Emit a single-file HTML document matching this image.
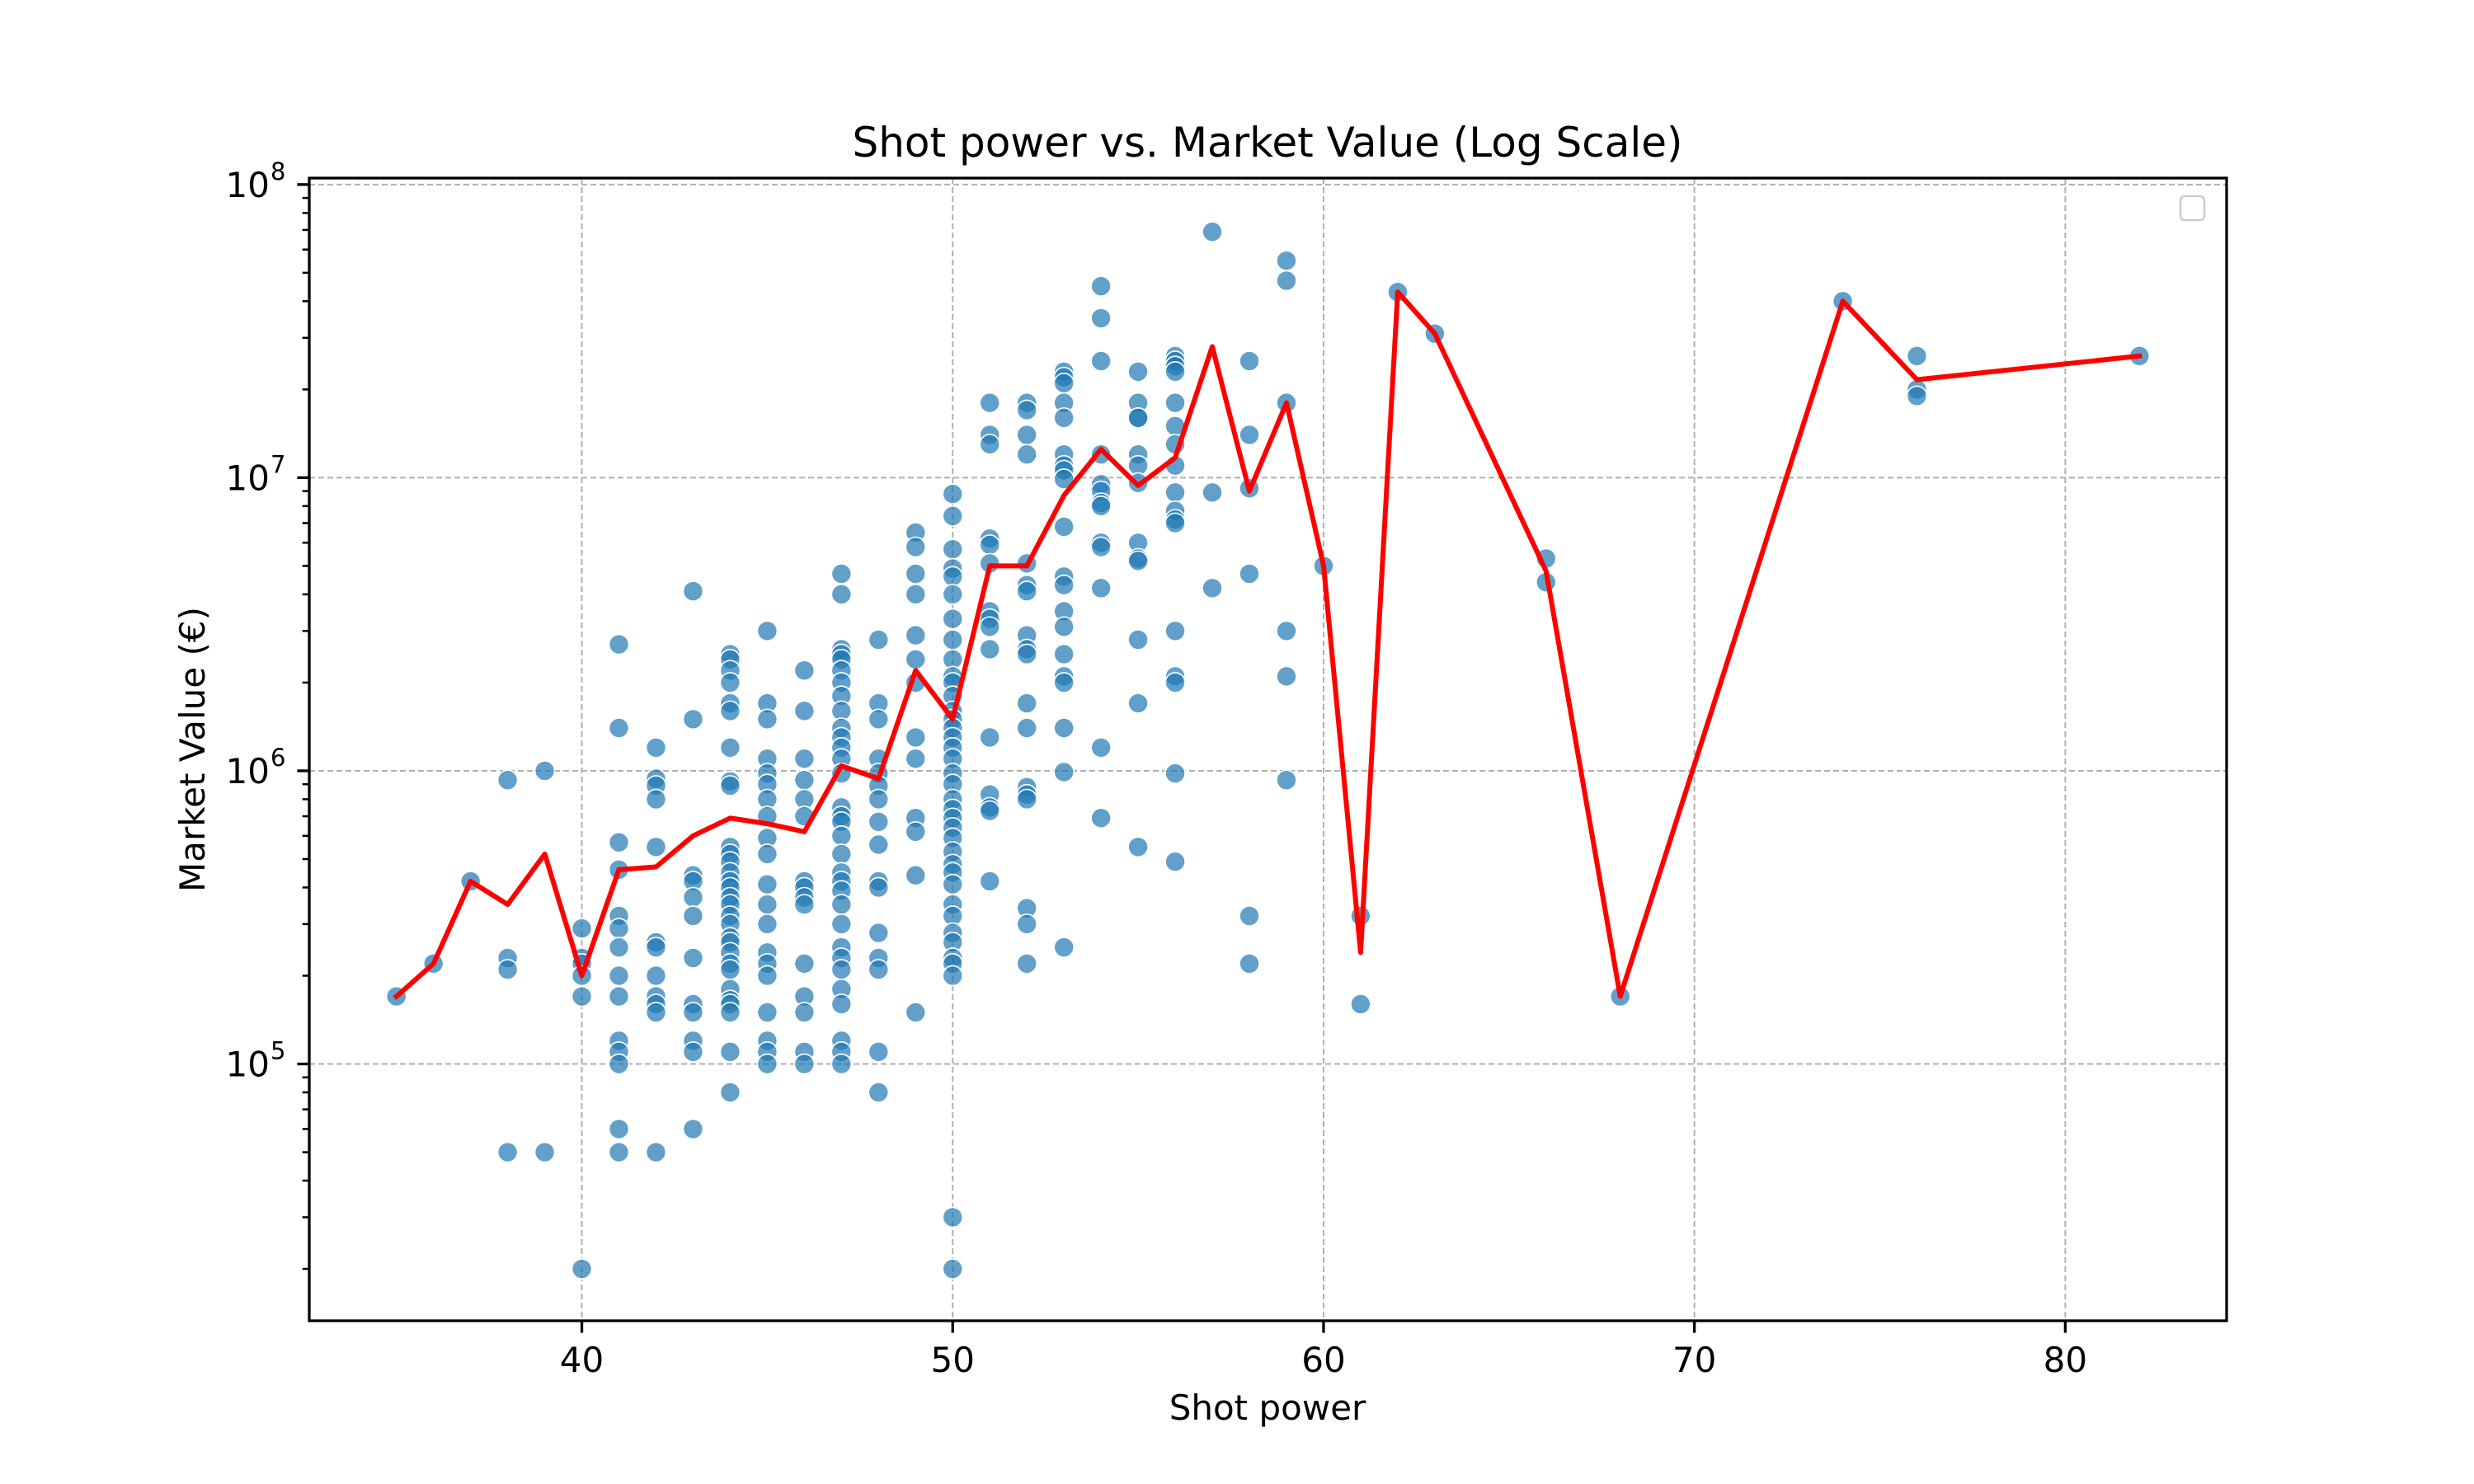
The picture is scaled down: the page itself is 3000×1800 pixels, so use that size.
<!DOCTYPE html>
<html><head><meta charset="utf-8">
<style>
html,body{margin:0;padding:0;background:#fff;}
svg{display:block;font-family:"DejaVu Sans","Liberation Sans",sans-serif;}
</style></head>
<body>
<svg id="chart" width="3000" height="1800" viewBox="0 0 3000 1800" xmlns="http://www.w3.org/2000/svg">
<rect x="0" y="0" width="3000" height="1800" fill="#fff"/>
<g id="grid"></g>
<g id="marks"></g>
<g id="axes"></g>
<text x="1537" y="190" font-size="50" text-anchor="middle">Shot power vs. Market Value (Log Scale)</text>
<text x="1537" y="1722" font-size="42" text-anchor="middle">Shot power</text>
<text x="0" y="0" font-size="42" text-anchor="middle" transform="translate(248,909) rotate(-90)">Market Value (€)</text>
<rect x="2644" y="238" width="29" height="29" rx="5" fill="#fff" stroke="#cccccc" stroke-width="2.5"/>
</svg>
<script>
const xTicks = [40, 50, 60, 70, 80];
const yDecades = [5, 6, 7, 8];
const pointX = [35,36,37,38,38,38,38,39,39,40,40,40,40,40,40,
41,41,41,41,41,41,41,41,41,41,41,41,41,41,
42,42,42,42,42,42,42,42,42,42,42,42,
43,43,43,43,43,43,43,43,43,43,43,43,
44,44,44,44,44,44,44,44,44,44,44,44,44,44,44,44,44,44,44,44,44,44,44,44,44,44,44,44,44,44,
45,45,45,45,45,45,45,45,45,45,45,45,45,45,45,45,45,45,45,45,
46,46,46,46,46,46,46,46,46,46,46,46,46,46,46,
47,47,47,47,47,47,47,47,47,47,47,47,47,47,47,47,47,47,47,47,47,47,47,47,47,47,47,47,47,47,47,47,
48,48,48,48,48,48,48,48,48,48,48,48,48,48,48,48,
49,49,49,49,49,49,49,49,49,49,49,49,49,
50,50,50,50,50,50,50,50,50,50,50,50,50,50,50,50,50,50,50,50,50,50,50,50,50,50,50,50,50,50,50,50,50,50,50,50,50,50,
51,51,51,51,51,51,51,51,51,51,51,51,51,51,51,
52,52,52,52,52,52,52,52,52,52,52,52,52,52,52,52,52,52,
53,53,53,53,53,53,53,53,53,53,53,53,53,53,53,53,53,53,53,53,
54,54,54,54,54,54,54,54,54,54,54,54,54,
55,55,55,55,55,55,55,55,55,55,55,55,55,
56,56,56,56,56,56,56,56,56,56,56,56,56,56,56,56,56,
57,57,57,58,58,58,58,58,58,59,59,59,59,59,59,60,61,61,62,63,66,66,68,74,76,76,76,82];
const pointValue = [1.7e5,2.2e5,4.2e5,9.3e5,2.3e5,2.1e5,5e4,1e6,5e4,2.9e5,2.3e5,2.2e5,2.0e5,1.7e5,2e4,
2.7e6,1.4e6,5.7e5,4.6e5,3.2e5,2.9e5,2.5e5,2.0e5,1.7e5,1.2e5,1.1e5,1e5,6e4,5e4,
1.2e6,9.4e5,8.9e5,8e5,5.5e5,2.6e5,2.5e5,2.0e5,1.7e5,1.6e5,1.5e5,5e4,
4.1e6,1.5e6,4.4e5,4.2e5,3.7e5,3.2e5,2.3e5,1.6e5,1.5e5,1.2e5,1.1e5,6e4,
2.5e6,2.4e6,2.2e6,2.0e6,1.7e6,1.6e6,1.2e6,9.2e5,8.9e5,5.5e5,5.2e5,4.9e5,4.5e5,4.2e5,4.0e5,3.7e5,3.5e5,3.2e5,3.0e5,2.7e5,2.6e5,2.4e5,2.2e5,2.1e5,1.8e5,1.65e5,1.6e5,1.5e5,1.1e5,8e4,
3.0e6,1.7e6,1.5e6,1.1e6,9.8e5,9.0e5,8e5,7e5,5.9e5,5.2e5,4.1e5,3.5e5,3.0e5,2.4e5,2.2e5,2.0e5,1.5e5,1.2e5,1.1e5,1e5,
2.2e6,1.6e6,1.1e6,9.3e5,8e5,7e5,4.2e5,4.0e5,3.7e5,3.5e5,2.2e5,1.7e5,1.5e5,1.1e5,1e5,
4.7e6,4.0e6,2.6e6,2.5e6,2.4e6,2.2e6,2.0e6,1.8e6,1.6e6,1.4e6,1.3e6,1.2e6,1.1e6,9.8e5,7.5e5,7e5,6.7e5,6e5,5.2e5,4.5e5,4.2e5,3.9e5,3.5e5,3.0e5,2.5e5,2.3e5,2.1e5,1.8e5,1.6e5,1.2e5,1.1e5,1e5,
2.8e6,1.7e6,1.5e6,1.1e6,9.8e5,8.9e5,8e5,6.7e5,5.6e5,4.2e5,4.0e5,2.8e5,2.3e5,2.1e5,1.1e5,8e4,
6.5e6,5.8e6,4.7e6,4.0e6,2.9e6,2.4e6,2.0e6,1.3e6,1.1e6,6.9e5,6.2e5,4.4e5,1.5e5,
8.8e6,7.4e6,5.7e6,4.9e6,4.6e6,4.0e6,3.3e6,2.8e6,2.4e6,2.1e6,2.0e6,1.8e6,1.6e6,1.5e6,1.4e6,1.3e6,1.2e6,1.1e6,9.8e5,9.0e5,8e5,7.4e5,6.9e5,6.4e5,5.9e5,5.3e5,4.8e5,4.5e5,4.1e5,3.5e5,3.2e5,2.8e5,2.6e5,2.3e5,2.2e5,2.0e5,3e4,2e4,
1.8e7,1.4e7,1.3e7,6.2e6,5.9e6,5.1e6,3.5e6,3.3e6,3.1e6,2.6e6,1.3e6,8.3e5,7.5e5,7.3e5,4.2e5,
1.8e7,1.7e7,1.4e7,1.2e7,5.1e6,4.3e6,4.1e6,2.9e6,2.6e6,2.5e6,1.7e6,1.4e6,8.8e5,8.3e5,8e5,3.4e5,3.0e5,2.2e5,
2.3e7,2.2e7,2.1e7,1.8e7,1.6e7,1.2e7,1.1e7,1.06e7,9.9e6,6.8e6,4.6e6,4.3e6,3.5e6,3.1e6,2.5e6,2.1e6,2.0e6,1.4e6,9.9e5,2.5e5,
4.5e7,3.5e7,2.5e7,1.2e7,9.5e6,9.0e6,8.2e6,8e6,6.0e6,5.8e6,4.2e6,1.2e6,6.9e5,
2.3e7,1.8e7,1.6e7,1.6e7,1.2e7,1.1e7,9.6e6,6.0e6,5.3e6,5.2e6,2.8e6,1.7e6,5.5e5,
2.6e7,2.5e7,2.4e7,2.3e7,1.8e7,1.5e7,1.3e7,1.1e7,8.9e6,7.7e6,7.2e6,7e6,3.0e6,2.1e6,2.0e6,9.8e5,4.9e5,
6.9e7,8.9e6,4.2e6,2.5e7,1.4e7,9.2e6,4.7e6,3.2e5,2.2e5,5.5e7,4.7e7,1.8e7,3.0e6,2.1e6,9.3e5,5.0e6,3.2e5,1.6e5,4.3e7,3.1e7,5.3e6,4.4e6,1.7e5,4.0e7,2.6e7,2.0e7,1.9e7,2.6e7];
const meanX = [35,36,37,38,39,40,41,42,43,44,45,46,47,48,49,50,51,52,53,54,55,56,57,58,59,60,61,62,63,66,68,74,76,82];
const meanValue = [1.7e5,2.2e5,4.2e5,3.5e5,5.2e5,2.0e5,4.6e5,4.7e5,6.0e5,6.9e5,6.6e5,6.2e5,1.04e6,9.4e5,2.2e6,1.5e6,5.0e6,5.0e6,8.7e6,1.25e7,9.4e6,1.17e7,2.8e7,9.0e6,1.8e7,5.0e6,2.4e5,4.3e7,3.1e7,4.8e6,1.7e5,4.0e7,2.16e7,2.6e7];

const NS = "http://www.w3.org/2000/svg";
const L = 375, R = 2700, T = 216, B = 1602;
const xMin = 32.65, xMax = 84.35, yMin = 4.124, yMax = 8.022;
function sx(v){ return L + (v - xMin) / (xMax - xMin) * (R - L); }
function sy(v){ return B - (Math.log10(v) - yMin) / (yMax - yMin) * (B - T); }
function mk(tag, attrs, parent){
  const e = document.createElementNS(NS, tag);
  for (const k in attrs) e.setAttribute(k, attrs[k]);
  parent.appendChild(e);
  return e;
}
const grid = document.getElementById('grid');
const marks = document.getElementById('marks');
const axes = document.getElementById('axes');

xTicks.forEach(t => {
  const x = sx(t);
  const g = mk('line', {x1:x, x2:x, y1:T, y2:B, stroke:'#b0b0b0', 'stroke-width':2, 'stroke-dasharray':'7,4'}, grid);
  
  
  const tk = mk('line', {x1:x, x2:x, y1:B, y2:B+14.6, stroke:'#000', 'stroke-width':3.3}, axes);
  
  
  const lb = mk('text', {x:x, y:B+62, 'font-size':42, 'text-anchor':'middle'}, axes);
  lb.textContent = String(t);
  
  
});

yDecades.forEach(d => {
  const v = Math.pow(10, d);
  const y = sy(v);
  const g = mk('line', {x1:L, x2:R, y1:y, y2:y, stroke:'#b0b0b0', 'stroke-width':2, 'stroke-dasharray':'7,4'}, grid);
  
  
  const tk = mk('line', {x1:L-14.6, x2:L, y1:y, y2:y, stroke:'#000', 'stroke-width':3.3}, axes);
  
  
  const lb = mk('text', {x:L-48, y:y+15, 'font-size':42, 'text-anchor':'end'}, axes);
  lb.textContent = '10';
  
  
  const sup = mk('text', {x:L-47, y:y-6, 'font-size':29, 'text-anchor':'start'}, axes);
  sup.textContent = String(d);
  
  
});
for (let d = 4; d <= 7; d++) {
  for (let m = 2; m <= 9; m++) {
    const v = m * Math.pow(10, d);
    const y = sy(v);
    if (y < T || y > B) continue;
    const tk = mk('line', {x1:L-8.3, x2:L, y1:y, y2:y, stroke:'#000', 'stroke-width':2.5}, axes);
    
    
  }
}

pointX.forEach((xv, i) => {
  const c = mk('circle', {cx:sx(xv), cy:sy(pointValue[i]), r:12, fill:'#1f77b4', 'fill-opacity':0.7, stroke:'#fff', 'stroke-width':1.6}, marks);
  
  
});

const pts = meanX.map((xv, i) => sx(xv).toFixed(1) + ',' + sy(meanValue[i]).toFixed(1)).join(' ');
const pl = mk('polyline', {points:pts, fill:'none', stroke:'#ff0000', 'stroke-width':6, 'stroke-linejoin':'round', 'stroke-linecap':'square'}, marks);



const frame = mk('rect', {x:L, y:T, width:R-L, height:B-T, fill:'none', stroke:'#000', 'stroke-width':3.3}, axes);


</script>
</body></html>
